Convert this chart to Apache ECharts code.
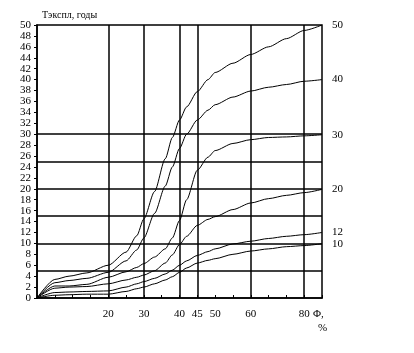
<!DOCTYPE html>
<html>
<head>
<meta charset="utf-8">
<script src="https://cdn.jsdelivr.net/npm/echarts@6/dist/echarts.min.js"></script>
<style>
  html, body { margin: 0; padding: 0; background: #fff; }
  #chart { width: 414px; height: 353px; }
</style>
</head>
<body>
<div id="chart"></div>
<script>
  // positions along the x axis (axis units, the picture's scale is squeezed past 60)
  var xPos = [0, 5, 9, 14, 20, 25, 28, 30, 33, 36, 38, 40, 42, 45, 48, 50, 55, 60, 65, 70, 75, 80];

  var y50 = [0, 3.4, 4.0, 4.6, 6.0, 8.4, 11.4, 14.5, 19.5, 25.5, 29.4, 32.6, 35.0, 37.8, 40.0, 41.3, 43.0, 44.6, 46.0, 47.5, 49.0, 50.0];
  var y40 = [0, 2.8, 3.2, 3.6, 4.7, 6.8, 8.8, 11.0, 15.5, 20.5, 24.0, 27.4, 30.0, 32.6, 34.4, 35.4, 36.8, 37.9, 38.6, 39.1, 39.7, 40.0];
  var y30 = [0, 2.2, 2.2, 2.5, 3.8, 4.8, 5.6, 6.3, 7.5, 9.0, 11.0, 14.2, 18.0, 23.4, 25.8, 27.0, 28.3, 29.0, 29.4, 29.5, 29.7, 29.9];
  var y20 = [0, 1.8, 2.0, 2.1, 2.6, 3.3, 3.8, 4.2, 5.0, 6.4, 7.9, 9.8, 11.3, 13.3, 14.4, 14.9, 16.2, 17.4, 18.2, 18.8, 19.3, 19.9];
  var y12 = [0, 1.0, 1.1, 1.2, 1.3, 2.0, 2.6, 3.0, 3.6, 4.4, 5.1, 6.0, 6.8, 7.8, 8.5, 9.0, 9.9, 10.4, 10.9, 11.3, 11.6, 12.0];
  var y10 = [0, 0.5, 0.6, 0.7, 0.7, 1.2, 1.7, 2.0, 2.6, 3.3, 3.9, 4.7, 5.5, 6.4, 6.9, 7.2, 8.0, 8.6, 9.0, 9.4, 9.6, 9.95];

  var curveNames = ['50', '40', '30', '20', '12', '10'];
  var curveData = [y50, y40, y30, y20, y12, y10];

  // tick labels on x: where they sit and what they say
  var xLabelPos = [20, 30, 40, 45, 50, 60, 75];
  var xLabelText = ['20', '30', '40', '45', '50', '60', '80'];

  // grid lines
  var vLines = [20, 30, 40, 45, 60, 75];
  var hLines = [5, 10, 15, 20, 25, 30];

  var font = 'Liberation Serif';
  var myChart = echarts.init(document.getElementById('chart'));

  var series = curveNames.map(function (name, i) {
    return {
      name: name,
      type: 'line',
      data: xPos.map(function (x, j) { return [x, curveData[i][j]]; }),
      smooth: 0.25,
      smoothMonotone: 'x',
      symbol: 'none',
      lineStyle: { color: '#000', width: 1 },
      endLabel: {
        show: true,
        formatter: '{a}',
        distance: 10,
        color: '#000',
        fontFamily: font,
        fontSize: 11
      },
      z: 3
    };
  });

  // gridlines drawn as mark lines
  series.push({
    type: 'line',
    data: [],
    silent: true,
    markLine: {
      silent: true,
      symbol: ['none', 'none'],
      label: { show: false },
      animation: false,
      lineStyle: { color: '#000', width: 1.5, type: 'solid' },
      data: vLines.map(function (v) { return { xAxis: v }; })
        .concat(hLines.map(function (v) { return { yAxis: v }; }))
    }
  });

  myChart.setOption({
    animation: false,
    backgroundColor: '#fff',
    grid: {
      left: 37,
      right: 92,
      top: 25,
      bottom: 55,
      show: true,
      borderColor: '#000',
      borderWidth: 1.5
    },
    xAxis: {
      type: 'value',
      min: 0,
      max: 80,
      interval: 5,
      axisLine: { lineStyle: { color: '#000', width: 1.5 } },
      axisTick: { show: true, inside: true, length: 3, lineStyle: { color: '#000' } },
      splitLine: { show: false },
      axisLabel: {
        margin: 11,
        color: '#000',
        fontFamily: font,
        fontSize: 11,
        showMaxLabel: true,
        formatter: function (v) {
          var k = xLabelPos.indexOf(v);
          return k >= 0 ? xLabelText[k] : '';
        }
      }
    },
    yAxis: {
      type: 'value',
      min: 0,
      max: 50,
      interval: 2,
      name: 'Тэкспл, годы',
      nameLocation: 'end',
      nameGap: 5,
      nameTextStyle: {
        color: '#000',
        fontFamily: font,
        fontSize: 10,
        align: 'left',
        padding: [0, 0, 0, 5]
      },
      axisLine: { show: true, lineStyle: { color: '#000', width: 1.5 } },
      axisTick: { show: true, length: 3, lineStyle: { color: '#000' } },
      splitLine: { show: false },
      axisLabel: {
        margin: 6,
        color: '#000',
        fontFamily: font,
        fontSize: 11
      }
    },
    graphic: [
      { type: 'text', left: 313, top: 309, style: { text: 'Φ,', fill: '#000', font: '11px "Liberation Serif"' } },
      { type: 'text', left: 318, top: 323, style: { text: '%', fill: '#000', font: '11px "Liberation Serif"' } }
    ],
    series: series
  });
</script>
</body>
</html>
